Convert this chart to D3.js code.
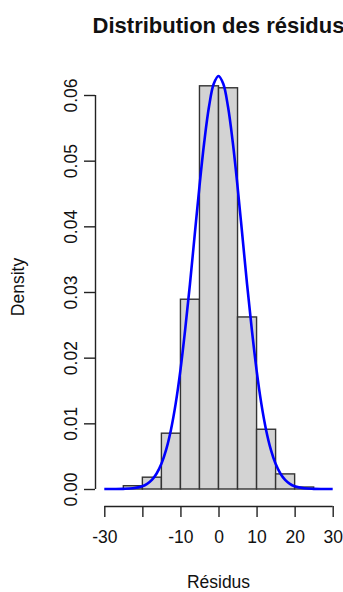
<!DOCTYPE html>
<html>
<head>
<meta charset="utf-8">
<script src="https://cdn.jsdelivr.net/npm/d3@7"></script>
<style>
  body { margin: 0; background: #fff; }
  text { font-family: "Liberation Sans", Arial, sans-serif; fill: #111; }
</style>
</head>
<body>
<svg id="chart" width="343" height="592"></svg>
<script>
// histogram bins (width 5) and densities
var binStarts = [-25, -20, -15, -10, -5, 0, 5, 10, 15, 20];
var densities = [0.0005, 0.0018, 0.0085, 0.0289, 0.0614, 0.0611, 0.0262, 0.0091, 0.0023, 0.0003];

// fitted normal curve, sampled points
var curveX = [-30, -27.5, -25, -22.5, -20, -18.75, -17.5, -16.25, -15, -13.75, -12.5, -11.25, -10, -8.75, -7.5, -6.25, -5, -3.75, -2.5, -1.25,
              0, 1.25, 2.5, 3.75, 5, 6.25, 7.5, 8.75, 10, 11.25, 12.5, 13.75, 15, 16.25, 17.5, 18.75, 20, 22.5, 25, 27.5, 30];
var curveY = [0, 0.000005, 0.000026, 0.000116, 0.000434, 0.00079, 0.00139, 0.00236, 0.00383, 0.0060, 0.0090, 0.0130, 0.0181, 0.0243, 0.0312, 0.0387, 0.0461, 0.0528, 0.0582, 0.0617,
              0.0629, 0.0617, 0.0582, 0.0528, 0.0461, 0.0387, 0.0312, 0.0243, 0.0181, 0.0130, 0.0090, 0.0060, 0.00383, 0.00236, 0.00139, 0.00079, 0.000434, 0.000116, 0.000026, 0.000005, 0];

var xTicks = [-30, -20, -10, 0, 10, 20, 30];
var xLabels = ["-30", "", "-10", "0", "10", "20", "30"];
var yTicks = [0, 0.01, 0.02, 0.03, 0.04, 0.05, 0.06];

var svg = d3.select("#chart");

var x = d3.scaleLinear().domain([-30, 30]).range([104.3, 332.7]);
var y = d3.scaleLinear().domain([0, 0.06]).range([489, 95]);

// bars
svg.append("g")
    .selectAll("rect")
    .data(binStarts)
    .enter()
    .append("rect")
    .attr("x", function (d) { return x(d); })
    .attr("width", function (d) { return x(d + 5) - x(d); })
    .attr("y", function (d, i) { return y(densities[i]); })
    .attr("height", function (d, i) { return y(0) - y(densities[i]); })
    .attr("fill", "#d3d3d3")
    .attr("stroke", "#333")
    .attr("stroke-width", 1.4);

// density curve
var line = d3.line()
    .x(function (d, i) { return x(curveX[i]); })
    .y(function (d) { return y(d); })
    .curve(d3.curveCatmullRom);

svg.append("path")
    .datum(curveY)
    .attr("d", line)
    .attr("fill", "none")
    .attr("stroke", "#0000ff")
    .attr("stroke-width", 2.6);

// x axis
var xAxis = d3.axisBottom(x)
    .tickValues(xTicks)
    .tickSize(11)
    .tickPadding(14)
    .tickFormat(function (d, i) { return xLabels[i]; });

var gx = svg.append("g")
    .attr("transform", "translate(0,506)")
    .call(xAxis);
gx.select(".domain").attr("stroke", "#222").attr("stroke-width", 1.4)
    .attr("d", "M" + x(-30) + ",0.5H" + x(30));
gx.selectAll(".tick line").attr("stroke", "#222").attr("stroke-width", 1.4);
gx.selectAll(".tick text").style("font-size", "17.5px").attr("fill", "#111")
    .style("font-family", '"Liberation Sans", Arial, sans-serif');

// y axis
var yAxis = d3.axisLeft(y)
    .tickValues(yTicks)
    .tickSize(11)
    .tickFormat(d3.format(".2f"));

var gy = svg.append("g")
    .attr("transform", "translate(95,0)")
    .call(yAxis);
gy.select(".domain").attr("stroke", "#222").attr("stroke-width", 1.4)
    .attr("d", "M0.5," + y(0) + "V" + y(0.06));
gy.selectAll(".tick line").attr("stroke", "#222").attr("stroke-width", 1.4);
gy.selectAll(".tick text")
    .style("font-size", "17.5px")
    .style("font-family", '"Liberation Sans", Arial, sans-serif')
    .attr("fill", "#111")
    .attr("x", 0)
    .attr("y", 0)
    .attr("text-anchor", "middle")
    .attr("transform", "translate(-24,0) rotate(-90)")
    .attr("dy", "0.35em");

// title and axis labels
svg.append("text")
    .attr("x", 218.5)
    .attr("y", 33)
    .attr("text-anchor", "middle")
    .style("font-size", "22px")
    .style("font-weight", "bold")
    .text("Distribution des résidus");

svg.append("text")
    .attr("x", 218.5)
    .attr("y", 588)
    .attr("text-anchor", "middle")
    .style("font-size", "17.5px")
    .text("Résidus");

svg.append("text")
    .attr("transform", "translate(24,287) rotate(-90)")
    .attr("text-anchor", "middle")
    .style("font-size", "17.5px")
    .text("Density");
</script>
</body>
</html>
